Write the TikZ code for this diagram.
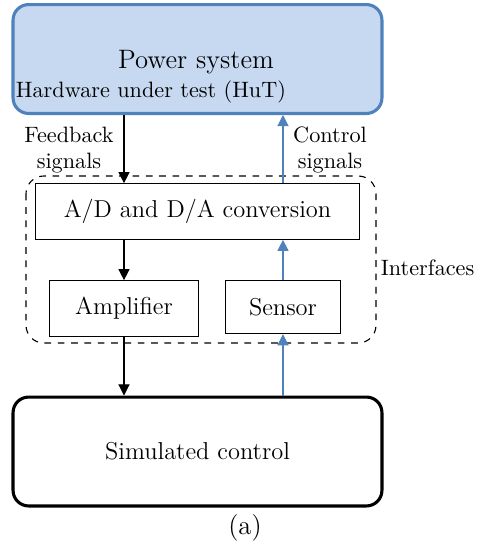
\documentclass[tikz,border=0pt]{standalone}
\usepackage{tikz}
\usetikzlibrary{arrows.meta,positioning}
\definecolor{cpow}{HTML}{C6D9F1}
\definecolor{cpowD}{HTML}{4F81BD}
\tikzset{
  fbox/.style={draw, align=center, inner sep=2pt, font=\fontsize{11}{13}\selectfont},
  nbig/.style={fbox, rounded corners=7pt, line width=1.4pt, minimum width=166pt, minimum height=49pt},
  npow/.style={nbig, fill=cpow, draw=cpowD},
  nsim/.style={nbig, draw=black},
  nblk/.style={fbox, line width=0.5pt},
  nlab/.style={align=center, font=\fontsize{10}{12}\selectfont},
  flow/.style={-{Triangle[length=5pt,width=5pt]}, line width=0.5pt},
  flowb/.style={flow, draw=cpowD, -{Triangle[length=5pt,width=5pt,fill=cpowD]}},
}
\begin{document}
\begin{tikzpicture}[x=0.45pt, y=-0.45pt]
  \useasboundingbox (0,0) rectangle (477,548);
  % interfaces frame
  \draw[dashed, rounded corners=8pt, line width=0.5pt] (26,176) rectangle (376,343);
  \node[nlab, anchor=east, inner xsep=1pt] (ifc) at (477,268) {Interfaces};
  % blocks
  \node[npow] (pow) at (197.5,59) {};
  \node[font=\fontsize{12}{14}\selectfont] (powt) at (196,62) {Power system};
  \node[nlab] (hut) at (151,92) {Hardware under test (HuT)};
  \node[nblk, minimum width=146pt, minimum height=25pt] (ad) at (197.5,211.5) {A/D and D/A conversion};
  \node[nblk, minimum width=67pt, minimum height=25pt] (amp) at (124,308.5) {Amplifier};
  \node[nblk, minimum width=52pt, minimum height=24pt] (sen) at (283,307) {Sensor};
  \node[nsim] (sim) at (197.5,451.5) {Simulated control};
  \node[font=\fontsize{12}{14}\selectfont] (cap) at (245,528) {(a)};
  % signals
  \draw[flow] (pow.south -| amp.north) -- (ad.north -| amp.north);
  \draw[flow] (ad.south -| amp.north) -- (amp.north);
  \draw[flow] (amp.south) -- (sim.north -| amp.south);
  \draw[flowb] (sim.north -| sen.south) -- (sen.south);
  \draw[flowb] (sen.north) -- (ad.south -| sen.north);
  \draw[flowb] (ad.north -| sen.north) -- (pow.south -| sen.north);
  \node[nlab] (fb) at (69,150) {Feedback\\signals};
  \node[nlab] (ctl) at (330,150) {Control\\signals};
\end{tikzpicture}
\end{document}
